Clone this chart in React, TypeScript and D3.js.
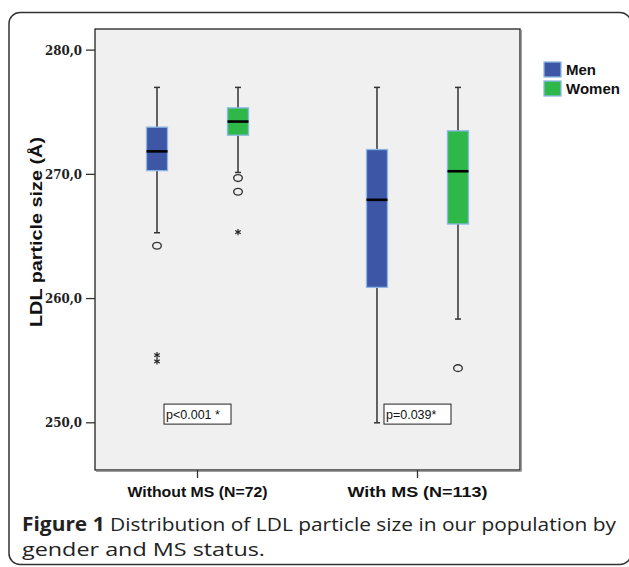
import React from "react";
import * as d3 from "d3";

const categories = ["Without MS (N=72)", "With MS (N=113)"];
const groups = ["Men", "Women"];
const groupColors = ["#3d56a6", "#2fb84a"];

const menWhiskerHigh = [277.0, 277.0];
const menQ3 = [273.8, 272.0];
const menMedian = [271.85, 267.95];
const menQ1 = [270.3, 260.9];
const menWhiskerLow = [265.3, 250.0];
const menCircles = [[264.25], []];
const menStars = [[255.45, 254.95], []];

const womenWhiskerHigh = [277.0, 277.0];
const womenQ3 = [275.35, 273.5];
const womenMedian = [274.25, 270.25];
const womenQ1 = [273.15, 266.0];
const womenWhiskerLow = [270.15, 258.35];
const womenCircles = [[269.7, 268.6], [254.4]];
const womenStars = [[265.35], []];

const yTicks = [250, 260, 270, 280];
const pLabels = ["p<0.001 *", "p=0.039*"];
const pLabelValue = 250.7;

const series = [
  { hi: menWhiskerHigh, q3: menQ3, med: menMedian, q1: menQ1, lo: menWhiskerLow, circles: menCircles, stars: menStars },
  { hi: womenWhiskerHigh, q3: womenQ3, med: womenMedian, q1: womenQ1, lo: womenWhiskerLow, circles: womenCircles, stars: womenStars },
];

const W = 629;
const H = 567;
const plot = { left: 95, right: 520, top: 29, bottom: 470 };

export default function App() {
  const y = d3.scaleLinear().domain([246.2, 281.7]).range([plot.bottom, plot.top]);
  const x = d3.scalePoint<string>().domain(categories).range([plot.left, plot.right]).padding(0.466);
  const sub = d3.scalePoint<string>().domain(groups).range([-40.5, 40.5]);
  const boxW = 21;
  const capW = 6;
  const fmt = (v: number) => d3.format(".1f")(v).replace(".", ",");

  const star = (cx: number, cy: number, key: string) => {
    const r = 3.2;
    const lines = [0, 60, 120].map((a) => {
      const t = ((a + 90) * Math.PI) / 180;
      return (
        <line key={a} x1={cx - r * Math.cos(t)} y1={cy - r * Math.sin(t)} x2={cx + r * Math.cos(t)} y2={cy + r * Math.sin(t)} stroke="#222" strokeWidth={1.2} />
      );
    });
    return <g key={key}>{lines}</g>;
  };

  return (
    <div style={{ position: "absolute", left: 0, top: 0 }}>
      <svg width={W} height={H} style={{ display: "block", background: "#fff" }}>
        {/* outer frame */}
        <rect x={9} y={12.5} width={622} height={552} rx={11} ry={11} fill="none" stroke="#333" strokeWidth={1.5} />

        {/* plot area */}
        <rect x={plot.left} y={plot.top} width={plot.right - plot.left} height={plot.bottom - plot.top} fill="#f0f0f0" stroke="#222" strokeWidth={1.3} />
        <line x1={plot.right + 1.3} y1={plot.top + 1} x2={plot.right + 1.3} y2={plot.bottom + 1.3} stroke="#888" strokeWidth={1} />
        <line x1={plot.left + 1} y1={plot.bottom + 1.3} x2={plot.right + 1.3} y2={plot.bottom + 1.3} stroke="#888" strokeWidth={1} />

        {/* y ticks */}
        {yTicks.map((t) => (
          <g key={t}>
            <line x1={86} x2={plot.left} y1={y(t)} y2={y(t)} stroke="#333" strokeWidth={1.3} />
            <text x={82} y={y(t)} dy="0.36em" textAnchor="end" fontFamily="DejaVu Serif" fontWeight="bold" fontSize={12.3} fill="#222" textLength={37} lengthAdjust="spacingAndGlyphs">
              {fmt(t)}
            </text>
          </g>
        ))}

        {/* y label */}
        <text transform={`translate(42,232) rotate(-90)`} textAnchor="middle" fontFamily="Liberation Sans" fontWeight="bold" fontSize={16.5} fill="#111" textLength={190} lengthAdjust="spacingAndGlyphs">
          LDL particle size (Å)
        </text>

        {/* x ticks and labels */}
        {categories.map((c) => (
          <g key={c}>
            <line x1={x(c)!} x2={x(c)!} y1={plot.bottom} y2={plot.bottom + 8} stroke="#333" strokeWidth={1.3} />
            <text x={x(c)!} y={497} textAnchor="middle" fontFamily="Liberation Sans" fontWeight="bold" fontSize={15} fill="#111" textLength={140} lengthAdjust="spacingAndGlyphs">
              {c}
            </text>
          </g>
        ))}

        {/* boxes */}
        {categories.map((c, ci) =>
          groups.map((g, gi) => {
            const s = series[gi];
            const cx = x(c)! + sub(g)!;
            return (
              <g key={c + g}>
                <line x1={cx} x2={cx} y1={y(s.hi[ci])} y2={y(s.q3[ci])} stroke="#333" strokeWidth={1.5} />
                <line x1={cx} x2={cx} y1={y(s.q1[ci])} y2={y(s.lo[ci])} stroke="#333" strokeWidth={1.5} />
                <line x1={cx - capW / 2} x2={cx + capW / 2} y1={y(s.hi[ci])} y2={y(s.hi[ci])} stroke="#333" strokeWidth={1.5} />
                <line x1={cx - capW / 2} x2={cx + capW / 2} y1={y(s.lo[ci])} y2={y(s.lo[ci])} stroke="#333" strokeWidth={1.5} />
                <rect x={cx - boxW / 2} y={y(s.q3[ci])} width={boxW} height={y(s.q1[ci]) - y(s.q3[ci])} fill={groupColors[gi]} stroke="#8db8e6" strokeWidth={1.3} />
                <line x1={cx - boxW / 2} x2={cx + boxW / 2} y1={y(s.med[ci])} y2={y(s.med[ci])} stroke="#000" strokeWidth={2.6} />
                {s.circles[ci].map((v, k) => (
                  <ellipse key={"c" + k} cx={cx} cy={y(v)} rx={4.3} ry={3.4} fill="none" stroke="#333" strokeWidth={1.4} />
                ))}
                {s.stars[ci].map((v, k) => star(cx, y(v), "s" + k))}
              </g>
            );
          })
        )}

        {/* p-value labels */}
        {categories.map((c, ci) => (
          <g key={"p" + c}>
            <rect x={x(c)! - 33.5} y={y(pLabelValue) - 10} width={67} height={20} fill="#fff" stroke="#222" strokeWidth={1} />
            <text x={x(c)! - 31.5} y={y(pLabelValue)} dy="0.36em" fontFamily="Liberation Sans" fontSize={12.5} fill="#111">
              {pLabels[ci]}
            </text>
          </g>
        ))}

        {/* legend */}
        {groups.map((g, gi) => (
          <g key={"l" + g}>
            <rect x={544} y={62 + gi * 19} width={17} height={15} fill={groupColors[gi]} stroke="#8db8e6" strokeWidth={1.3} />
            <text x={566} y={74.5 + gi * 19} fontFamily="Liberation Sans" fontWeight="bold" fontSize={15} fill="#111">
              {g}
            </text>
          </g>
        ))}

        {/* caption */}
        <text x={22} y={531} fontFamily="Open Sans" fontSize={19} fill="#222" textLength={594} lengthAdjust="spacingAndGlyphs">
          <tspan fontWeight="bold">Figure 1</tspan> Distribution of LDL particle size in our population by
        </text>
        <text x={22} y={556} fontFamily="Open Sans" fontSize={19} fill="#222" textLength={243} lengthAdjust="spacingAndGlyphs">
          gender and MS status.
        </text>
      </svg>
    </div>
  );
}
